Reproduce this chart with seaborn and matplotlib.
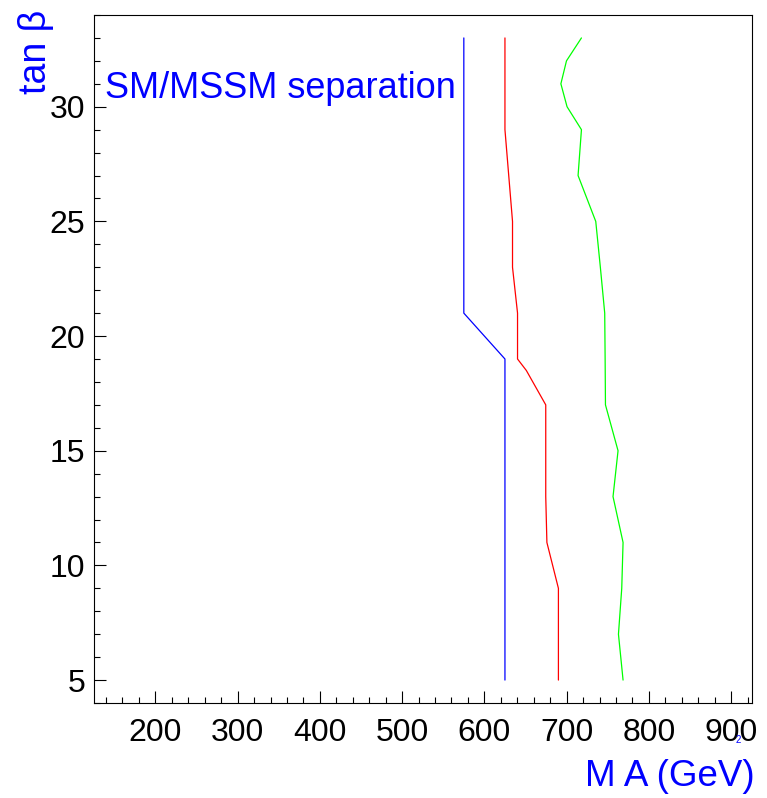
import matplotlib
matplotlib.use("Agg")
import matplotlib.pyplot as plt
from matplotlib.ticker import MultipleLocator
import seaborn as sns
import pandas as pd

# Exclusion contours in the (M_A, tan beta) plane
tanb_blue = [5, 19, 21, 33]
ma_blue = [625, 625, 575, 575]

tanb_red = [5, 9, 11, 13, 17, 18.5, 19, 21, 23, 25, 29, 33]
ma_red = [690, 690, 676, 674.6, 674.6, 651, 640.3, 640.3, 634.2, 634.2, 625, 625]

tanb_green = [5, 7, 9, 11, 13, 15, 17, 19, 21, 23, 25, 27, 29, 30, 31, 32, 33]
ma_green = [768.6, 763, 767, 768.6, 756.4, 762.5, 747.2, 746.8, 746.3, 741,
            735.4, 713.9, 718, 700.5, 693, 699.8, 718]

x_range = (125, 925)
y_range = (4, 34)

sns.set_style("white")
plt.rcParams["font.family"] = ["Liberation Sans", "DejaVu Sans"]

W, H = 767, 798
fig = plt.figure(figsize=(W / 100, H / 100), dpi=100)
ax = fig.add_axes([93.7 / W, (H - 703) / H, (751.7 - 93.7) / W, (703 - 15) / H])

for ma, tb, col in [(ma_blue, tanb_blue, "#0000ff"),
                    (ma_red, tanb_red, "#ff0000"),
                    (ma_green, tanb_green, "#00ff00")]:
    df = pd.DataFrame({"ma": ma, "tanb": tb})
    sns.lineplot(data=df, x="ma", y="tanb", sort=False, estimator=None,
                 color=col, lw=0.9, ax=ax)

ax.set_xlim(*x_range)
ax.set_ylim(*y_range)
ax.set_xlabel("")
ax.set_ylabel("")

ax.xaxis.set_major_locator(MultipleLocator(100))
ax.xaxis.set_minor_locator(MultipleLocator(20))
ax.yaxis.set_major_locator(MultipleLocator(5))
ax.yaxis.set_minor_locator(MultipleLocator(1))

ax.tick_params(axis="both", which="both", direction="in", color="black",
               width=0.8, bottom=True, left=True, top=False, right=False,
               labelcolor="black")
ax.tick_params(axis="both", which="major", length=8.8)
ax.tick_params(axis="both", which="minor", length=4.6)
ax.tick_params(axis="x", which="major", labelsize=23, pad=11)
ax.tick_params(axis="y", which="major", labelsize=23, pad=6)

for sp in ax.spines.values():
    sp.set_visible(True)
    sp.set_color("black")
    sp.set_linewidth(0.8)

fig.text(105 / W, 1 - 98.3 / H, "SM/MSSM separation", color="#0000ff",
         fontsize=26, ha="left", va="baseline")
fig.text(755 / W, 1 - 776.7 / H, "M A (GeV)", color="#0000ff",
         fontsize=26.5, ha="right", va="center")
fig.text(35.5 / W, 1 - 10 / H, "tan β", color="#0000ff",
         fontsize=27, ha="center", va="top", rotation=90)
fig.text(738 / W, 1 - 740 / H, "2", color="#0000ff",
         fontsize=7, ha="center", va="center")

fig.savefig("out.png", dpi=100, facecolor="white")
